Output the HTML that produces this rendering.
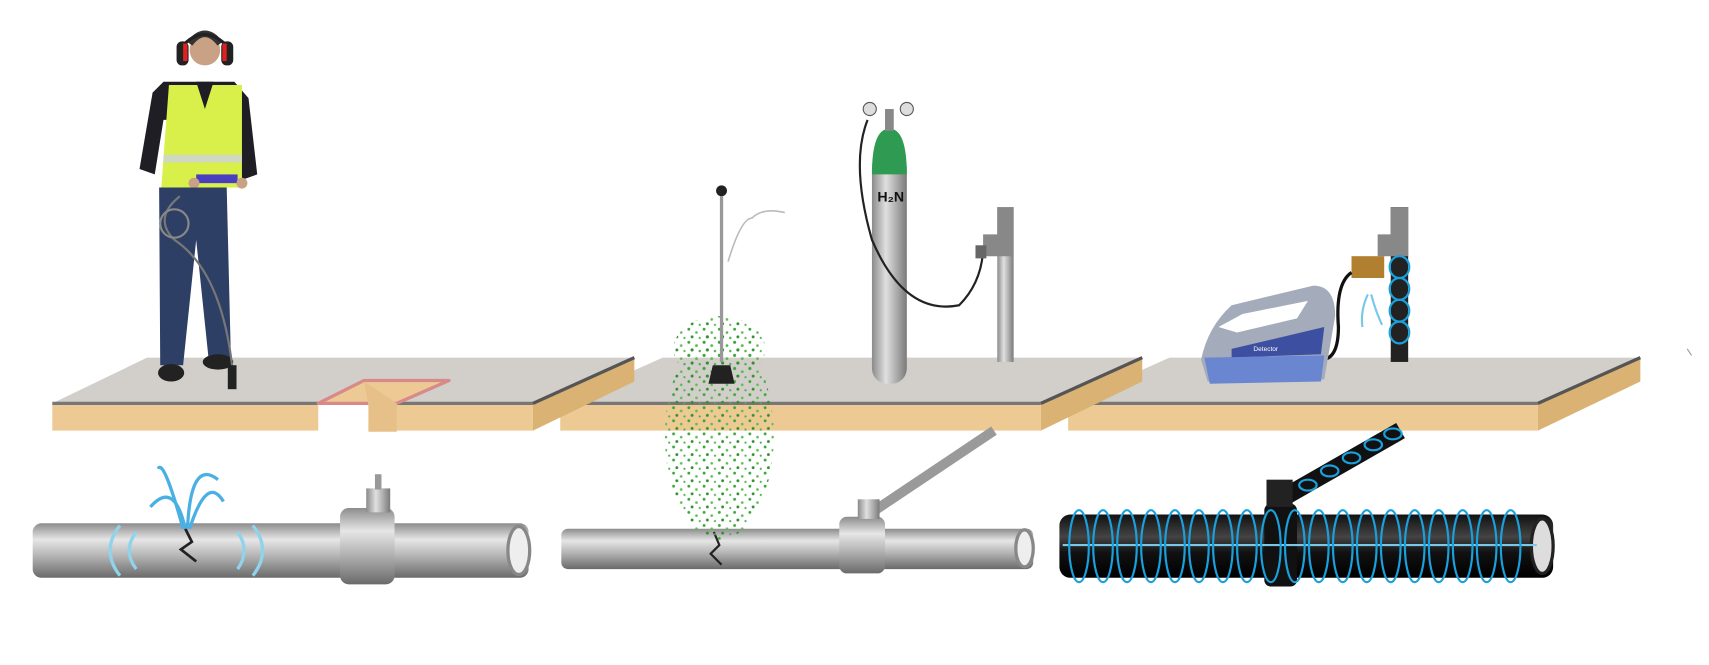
<!DOCTYPE html>
<html><head><style>html,body{margin:0;padding:0;background:#fff}svg{display:block}</style></head>
<body>
<svg width="1709" height="665" viewBox="0 0 1568 610" preserveAspectRatio="none" xmlns="http://www.w3.org/2000/svg">
<defs>
<linearGradient id="gp" x1="0" y1="0" x2="0" y2="1">
<stop offset="0" stop-color="#8c8c8c"/><stop offset="0.3" stop-color="#e6e6e6"/><stop offset="0.6" stop-color="#b4b4b4"/><stop offset="1" stop-color="#6a6a6a"/></linearGradient>
<linearGradient id="gb" x1="0" y1="0" x2="0" y2="1">
<stop offset="0" stop-color="#111"/><stop offset="0.35" stop-color="#444"/><stop offset="0.6" stop-color="#111"/><stop offset="1" stop-color="#000"/></linearGradient>
<linearGradient id="gc" x1="0" y1="0" x2="1" y2="0">
<stop offset="0" stop-color="#8a8a8a"/><stop offset="0.4" stop-color="#e0e0e0"/><stop offset="1" stop-color="#7a7a7a"/></linearGradient>
<pattern id="dots" width="14" height="12" patternUnits="userSpaceOnUse">
<circle cx="2" cy="2" r="1.3" fill="#3aa63a"/><circle cx="9" cy="5" r="1.2" fill="#5cbf4c"/><circle cx="5" cy="9" r="1.3" fill="#2e8f2e"/><circle cx="12" cy="10" r="1" fill="#4cb04c"/></pattern>
</defs>

<!-- slab 3 -->
<polygon points="980,370 1073,328 1505,328 1411,370" fill="#d2cfcb"/>
<rect x="980" y="370" width="431" height="25" fill="#edca93"/>
<polygon points="1411,370 1505,328 1505,350 1411,395" fill="#d9b274"/>
<line x1="980" y1="370" x2="1411" y2="370" stroke="#777" stroke-width="3"/>
<line x1="1411" y1="370" x2="1505" y2="328" stroke="#555" stroke-width="3"/>
<!-- slab 2 -->
<polygon points="514,370 608,328 1048,328 955,370" fill="#d2cfcb"/>
<rect x="514" y="370" width="441" height="25" fill="#edca93"/>
<polygon points="955,370 1048,328 1048,350 955,395" fill="#d9b274"/>
<line x1="514" y1="370" x2="955" y2="370" stroke="#777" stroke-width="3"/>
<line x1="955" y1="370" x2="1048" y2="328" stroke="#555" stroke-width="3"/>
<!-- slab 1 -->
<polygon points="48,370 135,328 582,328 489,370" fill="#d2cfcb"/>
<rect x="48" y="370" width="441" height="25" fill="#edca93"/>
<polygon points="489,370 582,328 582,350 489,395" fill="#d9b274"/>
<line x1="48" y1="370" x2="489" y2="370" stroke="#777" stroke-width="3"/>
<line x1="489" y1="370" x2="582" y2="328" stroke="#555" stroke-width="3"/>
<!-- notch -->
<rect x="292" y="369" width="70" height="28" fill="#fff"/>
<polygon points="292,370 334,349 412,349 364,370" fill="#edca93" stroke="#d88a8a" stroke-width="3" stroke-linejoin="round"/>
<polygon points="334,350 364,370 364,396 338,396 338,372" fill="#e6c088"/>

<!-- pipe 1 -->
<rect x="30" y="480" width="455" height="50" rx="8" fill="url(#gp)"/>
<ellipse cx="476" cy="505" rx="10" ry="22" fill="#eee" stroke="#888" stroke-width="3"/>
<rect x="312" y="466" width="50" height="70" rx="8" fill="url(#gp)"/>
<rect x="336" y="448" width="22" height="22" fill="url(#gc)"/>
<rect x="344" y="435" width="6" height="14" fill="#999"/>
<g fill="none" stroke="#8fd3ec" stroke-width="3">
<path d="M110,482 Q92,505 110,528"/><path d="M232,482 Q250,505 232,528"/>
<path d="M125,488 Q112,505 125,522"/><path d="M218,488 Q230,505 218,522"/>
</g>
<path d="M170,485 L176,497 L166,504 L180,515" stroke="#222" stroke-width="2.5" fill="none"/>
<g fill="none" stroke="#4ab0e4" stroke-width="3">
<path d="M170,485 Q160,440 138,465"/><path d="M172,485 Q175,420 200,440"/><path d="M168,485 Q150,420 145,430"/><path d="M174,485 Q190,435 205,460"/>
</g>
<!-- pipe 2 -->
<line x1="800" y1="470" x2="912" y2="395" stroke="#9a9a9a" stroke-width="9"/>
<rect x="515" y="485" width="433" height="37" rx="6" fill="url(#gp)"/>
<ellipse cx="940" cy="503" rx="8" ry="17" fill="#eee" stroke="#888" stroke-width="3"/>
<rect x="770" y="474" width="42" height="52" rx="7" fill="url(#gp)"/>
<rect x="787" y="458" width="20" height="18" fill="url(#gc)"/>
<path d="M655,488 L660,500 L652,508 L662,518" stroke="#222" stroke-width="2" fill="none"/>
<ellipse cx="660" cy="400" rx="50" ry="95" fill="url(#dots)"/>
<ellipse cx="660" cy="320" rx="42" ry="30" fill="url(#dots)"/>
<!-- pipe 3 -->
<line x1="1180" y1="455" x2="1285" y2="395" stroke="#111" stroke-width="16"/>
<rect x="972" y="472" width="453" height="58" rx="10" fill="url(#gb)"/>
<ellipse cx="1415" cy="501" rx="10" ry="25" fill="#ddd" stroke="#222" stroke-width="3"/>
<rect x="1160" y="462" width="30" height="76" rx="6" fill="#111"/>
<rect x="1162" y="440" width="24" height="25" fill="#222"/>
<line x1="975" y1="500" x2="1410" y2="500" stroke="#7ac8e8" stroke-width="2"/>
<g fill="none" stroke="#1aa0dc" stroke-width="2">
<ellipse cx="990" cy="501" rx="9" ry="33"/><ellipse cx="1012" cy="501" rx="9" ry="33"/><ellipse cx="1034" cy="501" rx="9" ry="33"/><ellipse cx="1056" cy="501" rx="9" ry="33"/><ellipse cx="1078" cy="501" rx="9" ry="33"/><ellipse cx="1100" cy="501" rx="9" ry="33"/><ellipse cx="1122" cy="501" rx="9" ry="33"/><ellipse cx="1144" cy="501" rx="9" ry="33"/><ellipse cx="1166" cy="501" rx="9" ry="33"/><ellipse cx="1188" cy="501" rx="9" ry="33"/><ellipse cx="1210" cy="501" rx="9" ry="33"/><ellipse cx="1232" cy="501" rx="9" ry="33"/><ellipse cx="1254" cy="501" rx="9" ry="33"/><ellipse cx="1276" cy="501" rx="9" ry="33"/><ellipse cx="1298" cy="501" rx="9" ry="33"/><ellipse cx="1320" cy="501" rx="9" ry="33"/><ellipse cx="1342" cy="501" rx="9" ry="33"/><ellipse cx="1364" cy="501" rx="9" ry="33"/><ellipse cx="1386" cy="501" rx="9" ry="33"/>
<ellipse cx="1200" cy="445" rx="8" ry="5"/><ellipse cx="1220" cy="432" rx="8" ry="5"/><ellipse cx="1240" cy="420" rx="8" ry="5"/><ellipse cx="1260" cy="408" rx="8" ry="5"/><ellipse cx="1278" cy="398" rx="8" ry="5"/>
</g>

<!-- person -->
<path d="M140,85 L150,75 L215,75 L228,90 L236,160 L222,165 L215,110 L150,110 L142,160 L128,155 Z" fill="#1e1e24"/>
<circle cx="188" cy="46" r="14" fill="#c9a184"/>
<path d="M174,40 Q188,22 202,40" stroke="#333" stroke-width="6" fill="none"/>
<path d="M165,45 Q187,18 211,45" stroke="#222" stroke-width="3" fill="none"/>
<rect x="162" y="38" width="11" height="22" rx="5" fill="#222"/><rect x="203" y="38" width="11" height="22" rx="5" fill="#222"/>
<rect x="168" y="40" width="4" height="16" fill="#d22"/><rect x="204" y="40" width="4" height="16" fill="#d22"/>
<path d="M155,78 L222,78 L222,172 L148,172 Z" fill="#d9ef4a"/>
<path d="M180,75 L188,100 L196,75 Z" fill="#1e1e24"/>
<rect x="150" y="142" width="72" height="7" fill="#cfd8c0"/>
<rect x="180" y="160" width="38" height="8" fill="#4a3fbf"/>
<circle cx="178" cy="168" r="5" fill="#c9a184"/><circle cx="222" cy="168" r="5" fill="#c9a184"/>
<path d="M146,172 L208,172 L212,335 L192,335 L180,220 L168,335 L147,335 Z" fill="#2e3f66"/>
<ellipse cx="157" cy="342" rx="12" ry="8" fill="#222"/><ellipse cx="200" cy="332" rx="14" ry="7" fill="#222"/>
<path d="M165,180 Q140,200 160,220 Q205,250 214,345" stroke="#777" stroke-width="2" fill="none"/>
<circle cx="160" cy="205" r="13" stroke="#888" stroke-width="2" fill="none"/>
<rect x="209" y="335" width="8" height="22" fill="#222"/>

<!-- microphone -->
<line x1="662" y1="180" x2="662" y2="332" stroke="#999" stroke-width="3"/>
<circle cx="662" cy="175" r="5" fill="#222"/>
<path d="M654,335 L670,335 L674,352 L650,352 Z" fill="#222"/>
<path d="M668,240 Q680,200 690,200 Q700,190 720,195" stroke="#bbb" stroke-width="1.5" fill="none"/>
<!-- cylinder -->
<rect x="800" y="140" width="32" height="212" rx="14" fill="url(#gc)"/>
<path d="M800,160 Q800,118 816,118 Q832,118 832,160 Z" fill="#2f9a52"/>
<rect x="812" y="100" width="8" height="20" fill="#888"/>
<circle cx="798" cy="100" r="6" fill="#ddd" stroke="#555"/><circle cx="832" cy="100" r="6" fill="#ddd" stroke="#555"/>
<text x="805" y="185" font-family="Liberation Sans, sans-serif" font-weight="bold" font-size="13" fill="#111">H₂N</text>
<path d="M796,110 Q780,150 800,220 Q830,290 880,280 Q900,260 902,230" stroke="#222" stroke-width="2" fill="none"/>
<!-- tap 1 -->
<rect x="915" y="190" width="15" height="142" fill="url(#gc)"/>
<path d="M930,190 L930,235 L902,235 L902,215 L915,215 L915,190 Z" fill="#888"/>
<rect x="895" y="225" width="10" height="12" fill="#666"/>
<!-- tap 2 -->
<rect x="1276" y="190" width="16" height="142" fill="#222"/>
<path d="M1292,190 L1292,235 L1264,235 L1264,215 L1276,215 L1276,190 Z" fill="#888"/>
<rect x="1240" y="235" width="30" height="20" fill="#b08030"/>
<g fill="none" stroke="#1aa0dc" stroke-width="2">
<ellipse cx="1284" cy="245" rx="9" ry="10"/><ellipse cx="1284" cy="265" rx="9" ry="10"/><ellipse cx="1284" cy="285" rx="9" ry="10"/><ellipse cx="1284" cy="305" rx="9" ry="10"/></g>
<path d="M1255,270 Q1248,285 1250,300 M1258,270 Q1262,285 1268,298" stroke="#7ac8e8" stroke-width="2" fill="none"/>
<path d="M1240,250 Q1225,260 1228,300 Q1228,330 1212,330" stroke="#111" stroke-width="3" fill="none"/>
<!-- detector device -->
<path d="M1102,330 Q1108,300 1130,280 L1205,262 Q1225,262 1225,290 L1215,348 L1108,350 Z" fill="#a4abbb"/>
<path d="M1118,300 L1140,288 L1200,276 L1190,292 L1135,305 Z" fill="#fff"/>
<path d="M1130,320 L1215,300 L1212,325 L1130,328 Z" fill="#3d4fa0"/>
<path d="M1105,328 L1215,326 L1212,350 L1110,352 Z" fill="#6a86d0"/>
<text x="1150" y="322" font-family="Liberation Sans, sans-serif" font-size="6" fill="#fff">Detector</text>
<line x1="1548" y1="320" x2="1552" y2="326" stroke="#999" stroke-width="1"/>
</svg>
</body></html>
